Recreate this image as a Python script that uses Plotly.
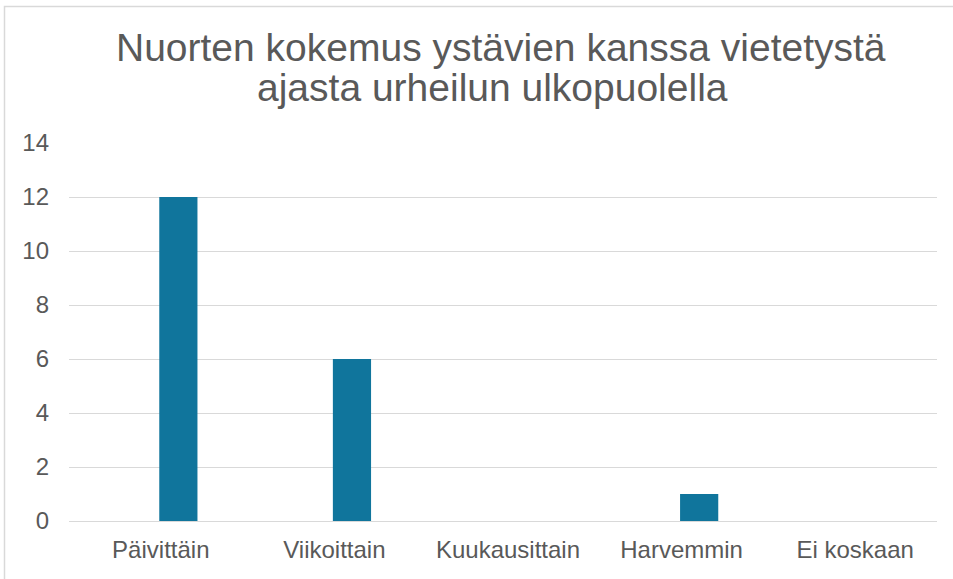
import plotly.graph_objects as go

categories = ["Päivittäin", "Viikoittain", "Kuukausittain", "Harvemmin", "Ei koskaan"]
values = [12, 6, 0, 1, 0]
y_ticks = [0, 2, 4, 6, 8, 10, 12, 14]
title_lines = ["Nuorten kokemus ystävien kanssa vietetystä", "ajasta urheilun ulkopuolella"]

W, H = 953, 579
L, R, T, B = 69, 16, 143, 58
pw, ph = W - L - R, H - T - B


def py(y):
    return (H - B - y) / ph


def px(x):
    return (x - L) / pw


fig = go.Figure(go.Bar(
    x=categories, y=values,
    marker=dict(color="#10759c", line=dict(width=0)),
    width=0.22, offset=0.02,
    hoverinfo="skip",
))

annotations = [
    dict(text=title_lines[0], x=px(501), y=py(47), xref="paper", yref="paper",
         xanchor="center", yanchor="middle", showarrow=False,
         font=dict(size=39, color="#595959")),
    dict(text=title_lines[1], x=px(492), y=py(88), xref="paper", yref="paper",
         xanchor="center", yanchor="middle", showarrow=False,
         font=dict(size=39, color="#595959")),
]

fig.update_layout(
    width=W, height=H,
    margin=dict(l=L, r=R, t=T, b=B),
    paper_bgcolor="white", plot_bgcolor="white",
    font=dict(family="Liberation Sans, Arial, sans-serif", color="#595959"),
    showlegend=False,
    annotations=annotations,
    xaxis=dict(showgrid=False, showline=False, zeroline=False,
               tickfont=dict(size=24, color="#595959"), ticklabelstandoff=12,
               ticklabelshift=5),
    yaxis=dict(range=[0, 14], tickvals=y_ticks, showgrid=True, gridcolor="#d9d9d9",
               gridwidth=1, zeroline=True, zerolinecolor="#d9d9d9", zerolinewidth=1,
               showline=False, tickfont=dict(size=24, color="#595959"),
               ticklabelstandoff=19),
    shapes=[dict(type="rect", xref="paper", yref="paper",
                 x0=px(4.5), x1=px(W + 20),
                 y0=py(H + 20), y1=py(6.5),
                 line=dict(color="#d9d9d9", width=1.5), layer="below")],
)

fig.write_html("out.html", config={"displayModeBar": False},
               post_script="document.body.style.margin='0';")
